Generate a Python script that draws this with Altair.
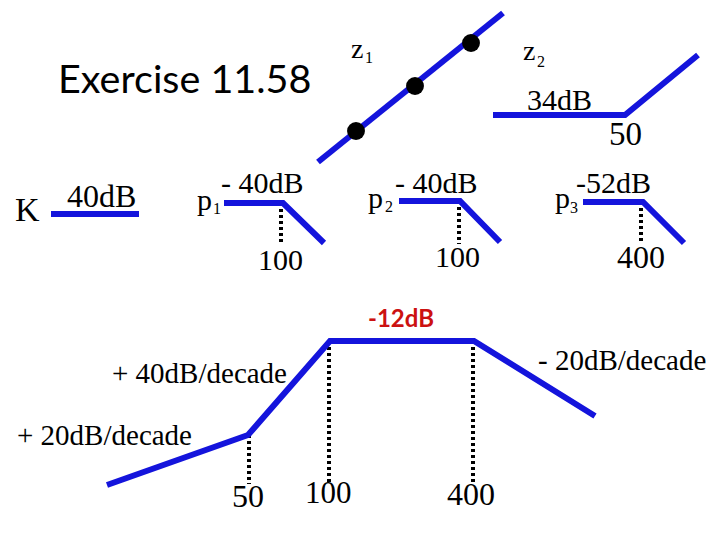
import altair as alt
import pandas as pd

BLUE = "#1414DC"
RED = "#CC1111"

# Asymptote polylines (segment id, x, y) in slide pixel coordinates
seg_ids = ["z1", "z1",
           "z2", "z2", "z2",
           "K", "K",
           "p1", "p1", "p1",
           "p2", "p2", "p2",
           "p3", "p3", "p3",
           "tot", "tot", "tot", "tot", "tot"]
seg_x = [318, 503,
         493, 625, 698,
         51, 139,
         224, 283, 324,
         399, 460, 500,
         583, 643, 684,
         107, 248, 330, 474, 595]
seg_y = [162, 13,
         115, 115, 55,
         214, 214,
         203, 203, 243,
         201, 201, 242,
         202, 202, 243,
         485, 435, 341, 341, 416]

# zero markers on z1
dot_x = [356, 415, 471]
dot_y = [131, 86, 43]

# dotted break-frequency guides
guide_x = [281, 459, 641, 249, 329, 473]
guide_y1 = [203, 201, 202, 435, 341, 341]
guide_y2 = [245, 244, 244, 484, 482, 482]

# serif labels
lab_text = ["K", "40dB",
            "p", "1", "- 40dB", "100",
            "p", "2", "- 40dB", "100",
            "p", "3", "-52dB", "400",
            "z", "1", "z", "2", "34dB", "50",
            "+ 40dB/decade", "+ 20dB/decade", "- 20dB/decade",
            "50", "100", "400"]
lab_x = [15, 67,
         197, 213, 221, 258,
         368, 385, 395, 435,
         555, 570, 576, 617,
         351, 365, 523, 537, 527, 609,
         112, 17, 538,
         232, 305, 447]
lab_y = [221, 207,
         210, 214, 193, 270,
         208, 212, 193, 267,
         208, 213, 193, 268,
         58, 63, 60, 67, 110, 145,
         383, 445, 370,
         507, 503, 505]
lab_size = [34, 32,
            30, 16, 30, 30,
            30, 16, 30, 30,
            30, 16, 30, 32,
            28, 16, 28, 16, 30, 33,
            29, 29, 29,
            32, 31, 32]

title_text = ["Exercise 11.58"]
title_x = [58]
title_y = [93]

mid_text = ["-12dB"]
mid_x = [368]
mid_y = [327]

xs = alt.Scale(domain=[0, 720], nice=False, zero=False)
ys = alt.Scale(domain=[0, 540], nice=False, zero=False, reverse=True)

segs = pd.DataFrame({"seg": seg_ids, "x": seg_x, "y": seg_y,
                     "i": list(range(len(seg_x)))})
dots = pd.DataFrame({"x": dot_x, "y": dot_y})
guides = pd.DataFrame({"x": guide_x, "y": guide_y1, "y2": guide_y2})
labs = pd.DataFrame({"t": lab_text, "x": lab_x, "y": lab_y, "s": lab_size})
title = pd.DataFrame({"t": title_text, "x": title_x, "y": title_y})
mid = pd.DataFrame({"t": mid_text, "x": mid_x, "y": mid_y})

X = alt.X("x:Q", scale=xs, axis=None)
Y = alt.Y("y:Q", scale=ys, axis=None)

guide_layer = alt.Chart(guides).mark_rule(
    color="black", strokeWidth=4, strokeDash=[3, 3]
).encode(x=X, y=Y, y2="y2:Q")

line_layer = alt.Chart(segs).mark_line(
    color=BLUE, strokeWidth=6, strokeCap="butt", strokeJoin="miter"
).encode(x=X, y=Y, detail="seg:N", order="i:Q")

dot_layer = alt.Chart(dots).mark_circle(
    color="black", opacity=1, size=320
).encode(x=X, y=Y)

lab_layer = alt.Chart(labs).mark_text(
    font="Liberation Serif", align="left", baseline="alphabetic", color="black"
).encode(x=X, y=Y, text="t:N", size=alt.Size("s:Q", scale=None, legend=None))

title_layer = alt.Chart(title).mark_text(
    font="Lato", fontSize=39.5, align="left", baseline="alphabetic", color="black"
).encode(x=X, y=Y, text="t:N")

mid_layer = alt.Chart(mid).mark_text(
    font="Lato", fontSize=24, fontWeight="bold", align="left",
    baseline="alphabetic", color=RED
).encode(x=X, y=Y, text="t:N")

chart = alt.layer(
    guide_layer, line_layer, dot_layer, lab_layer, title_layer, mid_layer
).properties(
    width=720, height=540, padding=0, autosize=alt.AutoSizeParams(type="none"),
    background="white"
).configure_view(strokeWidth=0)

chart.save("out.html", embed_options={"renderer": "svg", "actions": False})
